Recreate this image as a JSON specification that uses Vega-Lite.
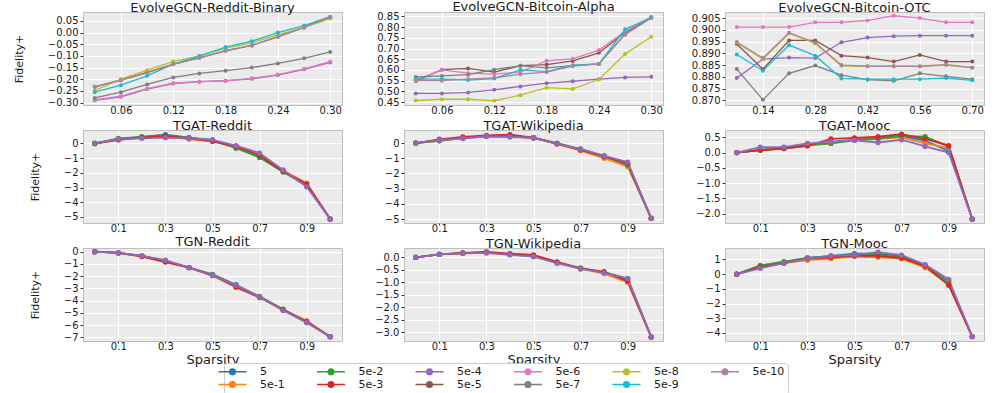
{
"$schema":"https://vega.github.io/schema/vega-lite/v6.json",
"padding":{"left":12,"top":0,"right":5,"bottom":0},
"background":"white",
"columns":3,
"spacing":{"row":25,"column":62},
"bounds":"flush",
"datasets":{
"p1":[
{"s":"5e-4","x":0.03,"y":-0.290},{"s":"5e-4","x":0.06,"y":-0.275},{"s":"5e-4","x":0.09,"y":-0.242},{"s":"5e-4","x":0.12,"y":-0.218},{"s":"5e-4","x":0.15,"y":-0.210},{"s":"5e-4","x":0.18,"y":-0.206},{"s":"5e-4","x":0.21,"y":-0.198},{"s":"5e-4","x":0.24,"y":-0.182},{"s":"5e-4","x":0.27,"y":-0.157},{"s":"5e-4","x":0.30,"y":-0.128},
{"s":"5e-5","x":0.03,"y":-0.232},{"s":"5e-5","x":0.06,"y":-0.203},{"s":"5e-5","x":0.09,"y":-0.170},{"s":"5e-5","x":0.12,"y":-0.135},{"s":"5e-5","x":0.15,"y":-0.108},{"s":"5e-5","x":0.18,"y":-0.078},{"s":"5e-5","x":0.21,"y":-0.055},{"s":"5e-5","x":0.24,"y":-0.018},{"s":"5e-5","x":0.27,"y":0.022},{"s":"5e-5","x":0.30,"y":0.066},
{"s":"5e-6","x":0.03,"y":-0.288},{"s":"5e-6","x":0.06,"y":-0.272},{"s":"5e-6","x":0.09,"y":-0.240},{"s":"5e-6","x":0.12,"y":-0.217},{"s":"5e-6","x":0.15,"y":-0.210},{"s":"5e-6","x":0.18,"y":-0.207},{"s":"5e-6","x":0.21,"y":-0.196},{"s":"5e-6","x":0.24,"y":-0.180},{"s":"5e-6","x":0.27,"y":-0.155},{"s":"5e-6","x":0.30,"y":-0.124},
{"s":"5e-7","x":0.03,"y":-0.280},{"s":"5e-7","x":0.06,"y":-0.255},{"s":"5e-7","x":0.09,"y":-0.222},{"s":"5e-7","x":0.12,"y":-0.192},{"s":"5e-7","x":0.15,"y":-0.175},{"s":"5e-7","x":0.18,"y":-0.163},{"s":"5e-7","x":0.21,"y":-0.150},{"s":"5e-7","x":0.24,"y":-0.132},{"s":"5e-7","x":0.27,"y":-0.110},{"s":"5e-7","x":0.30,"y":-0.083},
{"s":"5e-8","x":0.03,"y":-0.248},{"s":"5e-8","x":0.06,"y":-0.199},{"s":"5e-8","x":0.09,"y":-0.161},{"s":"5e-8","x":0.12,"y":-0.123},{"s":"5e-8","x":0.15,"y":-0.101},{"s":"5e-8","x":0.18,"y":-0.067},{"s":"5e-8","x":0.21,"y":-0.044},{"s":"5e-8","x":0.24,"y":-0.010},{"s":"5e-8","x":0.27,"y":0.022},{"s":"5e-8","x":0.30,"y":0.060},
{"s":"5e-9","x":0.03,"y":-0.255},{"s":"5e-9","x":0.06,"y":-0.225},{"s":"5e-9","x":0.09,"y":-0.185},{"s":"5e-9","x":0.12,"y":-0.135},{"s":"5e-9","x":0.15,"y":-0.100},{"s":"5e-9","x":0.18,"y":-0.062},{"s":"5e-9","x":0.21,"y":-0.037},{"s":"5e-9","x":0.24,"y":0.000},{"s":"5e-9","x":0.27,"y":0.030},{"s":"5e-9","x":0.30,"y":0.068},
{"s":"5e-10","x":0.03,"y":-0.232},{"s":"5e-10","x":0.06,"y":-0.205},{"s":"5e-10","x":0.09,"y":-0.172},{"s":"5e-10","x":0.12,"y":-0.136},{"s":"5e-10","x":0.15,"y":-0.108},{"s":"5e-10","x":0.18,"y":-0.077},{"s":"5e-10","x":0.21,"y":-0.055},{"s":"5e-10","x":0.24,"y":-0.017},{"s":"5e-10","x":0.27,"y":0.022},{"s":"5e-10","x":0.30,"y":0.067}
],
"p2":[
{"s":"5e-4","x":0.03,"y":0.490},{"s":"5e-4","x":0.06,"y":0.490},{"s":"5e-4","x":0.09,"y":0.495},{"s":"5e-4","x":0.12,"y":0.507},{"s":"5e-4","x":0.15,"y":0.523},{"s":"5e-4","x":0.18,"y":0.538},{"s":"5e-4","x":0.21,"y":0.547},{"s":"5e-4","x":0.24,"y":0.557},{"s":"5e-4","x":0.27,"y":0.565},{"s":"5e-4","x":0.30,"y":0.568},
{"s":"5e-5","x":0.03,"y":0.548},{"s":"5e-5","x":0.06,"y":0.601},{"s":"5e-5","x":0.09,"y":0.607},{"s":"5e-5","x":0.12,"y":0.590},{"s":"5e-5","x":0.15,"y":0.620},{"s":"5e-5","x":0.18,"y":0.625},{"s":"5e-5","x":0.21,"y":0.642},{"s":"5e-5","x":0.24,"y":0.680},{"s":"5e-5","x":0.27,"y":0.775},{"s":"5e-5","x":0.30,"y":0.845},
{"s":"5e-6","x":0.03,"y":0.552},{"s":"5e-6","x":0.06,"y":0.600},{"s":"5e-6","x":0.09,"y":0.585},{"s":"5e-6","x":0.12,"y":0.580},{"s":"5e-6","x":0.15,"y":0.590},{"s":"5e-6","x":0.18,"y":0.643},{"s":"5e-6","x":0.21,"y":0.652},{"s":"5e-6","x":0.24,"y":0.693},{"s":"5e-6","x":0.27,"y":0.780},{"s":"5e-6","x":0.30,"y":0.847},
{"s":"5e-7","x":0.03,"y":0.567},{"s":"5e-7","x":0.06,"y":0.572},{"s":"5e-7","x":0.09,"y":0.578},{"s":"5e-7","x":0.12,"y":0.601},{"s":"5e-7","x":0.15,"y":0.620},{"s":"5e-7","x":0.18,"y":0.610},{"s":"5e-7","x":0.21,"y":0.620},{"s":"5e-7","x":0.24,"y":0.628},{"s":"5e-7","x":0.27,"y":0.768},{"s":"5e-7","x":0.30,"y":0.845},
{"s":"5e-8","x":0.03,"y":0.457},{"s":"5e-8","x":0.06,"y":0.463},{"s":"5e-8","x":0.09,"y":0.463},{"s":"5e-8","x":0.12,"y":0.456},{"s":"5e-8","x":0.15,"y":0.482},{"s":"5e-8","x":0.18,"y":0.517},{"s":"5e-8","x":0.21,"y":0.511},{"s":"5e-8","x":0.24,"y":0.555},{"s":"5e-8","x":0.27,"y":0.674},{"s":"5e-8","x":0.30,"y":0.755},
{"s":"5e-9","x":0.03,"y":0.557},{"s":"5e-9","x":0.06,"y":0.557},{"s":"5e-9","x":0.09,"y":0.553},{"s":"5e-9","x":0.12,"y":0.560},{"s":"5e-9","x":0.15,"y":0.600},{"s":"5e-9","x":0.18,"y":0.592},{"s":"5e-9","x":0.21,"y":0.622},{"s":"5e-9","x":0.24,"y":0.628},{"s":"5e-9","x":0.27,"y":0.790},{"s":"5e-9","x":0.30,"y":0.845},
{"s":"5e-10","x":0.03,"y":0.550},{"s":"5e-10","x":0.06,"y":0.550},{"s":"5e-10","x":0.09,"y":0.557},{"s":"5e-10","x":0.12,"y":0.563},{"s":"5e-10","x":0.15,"y":0.580},{"s":"5e-10","x":0.18,"y":0.590},{"s":"5e-10","x":0.21,"y":0.618},{"s":"5e-10","x":0.24,"y":0.628},{"s":"5e-10","x":0.27,"y":0.765},{"s":"5e-10","x":0.30,"y":0.843}
],
"p3":[
{"s":"5e-4","x":0.07,"y":0.8795},{"s":"5e-4","x":0.14,"y":0.8875},{"s":"5e-4","x":0.21,"y":0.8882},{"s":"5e-4","x":0.28,"y":0.8880},{"s":"5e-4","x":0.35,"y":0.8947},{"s":"5e-4","x":0.42,"y":0.8967},{"s":"5e-4","x":0.49,"y":0.8973},{"s":"5e-4","x":0.56,"y":0.8975},{"s":"5e-4","x":0.63,"y":0.8975},{"s":"5e-4","x":0.70,"y":0.8975},
{"s":"5e-5","x":0.07,"y":0.8940},{"s":"5e-5","x":0.14,"y":0.8832},{"s":"5e-5","x":0.21,"y":0.8955},{"s":"5e-5","x":0.28,"y":0.8955},{"s":"5e-5","x":0.35,"y":0.8890},{"s":"5e-5","x":0.42,"y":0.8882},{"s":"5e-5","x":0.49,"y":0.8865},{"s":"5e-5","x":0.56,"y":0.8893},{"s":"5e-5","x":0.63,"y":0.8865},{"s":"5e-5","x":0.70,"y":0.8865},
{"s":"5e-6","x":0.07,"y":0.9012},{"s":"5e-6","x":0.14,"y":0.9012},{"s":"5e-6","x":0.21,"y":0.9012},{"s":"5e-6","x":0.28,"y":0.9032},{"s":"5e-6","x":0.35,"y":0.9032},{"s":"5e-6","x":0.42,"y":0.9040},{"s":"5e-6","x":0.49,"y":0.9060},{"s":"5e-6","x":0.56,"y":0.9050},{"s":"5e-6","x":0.63,"y":0.9032},{"s":"5e-6","x":0.70,"y":0.9032},
{"s":"5e-7","x":0.07,"y":0.8833},{"s":"5e-7","x":0.14,"y":0.8702},{"s":"5e-7","x":0.21,"y":0.8815},{"s":"5e-7","x":0.28,"y":0.8848},{"s":"5e-7","x":0.35,"y":0.8807},{"s":"5e-7","x":0.42,"y":0.8788},{"s":"5e-7","x":0.49,"y":0.8783},{"s":"5e-7","x":0.56,"y":0.8815},{"s":"5e-7","x":0.63,"y":0.8802},{"s":"5e-7","x":0.70,"y":0.8790},
{"s":"5e-8","x":0.07,"y":0.8945},{"s":"5e-8","x":0.14,"y":0.8875},{"s":"5e-8","x":0.21,"y":0.8985},{"s":"5e-8","x":0.28,"y":0.8942},{"s":"5e-8","x":0.35,"y":0.8847},{"s":"5e-8","x":0.42,"y":0.8845},{"s":"5e-8","x":0.49,"y":0.8845},{"s":"5e-8","x":0.56,"y":0.8845},{"s":"5e-8","x":0.63,"y":0.8850},{"s":"5e-8","x":0.70,"y":0.8838},
{"s":"5e-9","x":0.07,"y":0.8895},{"s":"5e-9","x":0.14,"y":0.8826},{"s":"5e-9","x":0.21,"y":0.8935},{"s":"5e-9","x":0.28,"y":0.8890},{"s":"5e-9","x":0.35,"y":0.8793},{"s":"5e-9","x":0.42,"y":0.8790},{"s":"5e-9","x":0.49,"y":0.8790},{"s":"5e-9","x":0.56,"y":0.8790},{"s":"5e-9","x":0.63,"y":0.8795},{"s":"5e-9","x":0.70,"y":0.8785},
{"s":"5e-10","x":0.07,"y":0.8948},{"s":"5e-10","x":0.14,"y":0.8880},{"s":"5e-10","x":0.21,"y":0.8988},{"s":"5e-10","x":0.28,"y":0.8945},{"s":"5e-10","x":0.35,"y":0.8850},{"s":"5e-10","x":0.42,"y":0.8845},{"s":"5e-10","x":0.49,"y":0.8845},{"s":"5e-10","x":0.56,"y":0.8845},{"s":"5e-10","x":0.63,"y":0.8852},{"s":"5e-10","x":0.70,"y":0.8840}
],
"p4":[
{"s":"5","x":0,"y":0},{"s":"5","x":0.1,"y":0.30},{"s":"5","x":0.2,"y":0.45},{"s":"5","x":0.3,"y":0.60},{"s":"5","x":0.4,"y":0.40},{"s":"5","x":0.5,"y":0.25},{"s":"5","x":0.6,"y":-0.30},{"s":"5","x":0.7,"y":-0.90},{"s":"5","x":0.8,"y":-1.90},{"s":"5","x":0.9,"y":-2.90},{"s":"5","x":1.0,"y":-5.15},
{"s":"5e-1","x":0,"y":0},{"s":"5e-1","x":0.1,"y":0.25},{"s":"5e-1","x":0.2,"y":0.45},{"s":"5e-1","x":0.3,"y":0.45},{"s":"5e-1","x":0.4,"y":0.30},{"s":"5e-1","x":0.5,"y":0.15},{"s":"5e-1","x":0.6,"y":-0.20},{"s":"5e-1","x":0.7,"y":-0.80},{"s":"5e-1","x":0.8,"y":-1.85},{"s":"5e-1","x":0.9,"y":-2.70},{"s":"5e-1","x":1.0,"y":-5.15},
{"s":"5e-2","x":0,"y":0},{"s":"5e-2","x":0.1,"y":0.35},{"s":"5e-2","x":0.2,"y":0.45},{"s":"5e-2","x":0.3,"y":0.55},{"s":"5e-2","x":0.4,"y":0.40},{"s":"5e-2","x":0.5,"y":0.20},{"s":"5e-2","x":0.6,"y":-0.30},{"s":"5e-2","x":0.7,"y":-0.95},{"s":"5e-2","x":0.8,"y":-1.95},{"s":"5e-2","x":0.9,"y":-2.85},{"s":"5e-2","x":1.0,"y":-5.15},
{"s":"5e-3","x":0,"y":0},{"s":"5e-3","x":0.1,"y":0.25},{"s":"5e-3","x":0.2,"y":0.40},{"s":"5e-3","x":0.3,"y":0.50},{"s":"5e-3","x":0.4,"y":0.35},{"s":"5e-3","x":0.5,"y":0.15},{"s":"5e-3","x":0.6,"y":-0.20},{"s":"5e-3","x":0.7,"y":-0.80},{"s":"5e-3","x":0.8,"y":-1.90},{"s":"5e-3","x":0.9,"y":-2.75},{"s":"5e-3","x":1.0,"y":-5.15},
{"s":"5e-4","x":0,"y":0},{"s":"5e-4","x":0.1,"y":0.30},{"s":"5e-4","x":0.2,"y":0.35},{"s":"5e-4","x":0.3,"y":0.40},{"s":"5e-4","x":0.4,"y":0.35},{"s":"5e-4","x":0.5,"y":0.25},{"s":"5e-4","x":0.6,"y":-0.15},{"s":"5e-4","x":0.7,"y":-0.65},{"s":"5e-4","x":0.8,"y":-1.80},{"s":"5e-4","x":0.9,"y":-2.95},{"s":"5e-4","x":1.0,"y":-5.15}
],
"p5":[
{"s":"5","x":0,"y":0},{"s":"5","x":0.1,"y":0.20},{"s":"5","x":0.2,"y":0.35},{"s":"5","x":0.3,"y":0.45},{"s":"5","x":0.4,"y":0.45},{"s":"5","x":0.5,"y":0.35},{"s":"5","x":0.6,"y":-0.05},{"s":"5","x":0.7,"y":-0.40},{"s":"5","x":0.8,"y":-0.85},{"s":"5","x":0.9,"y":-1.35},{"s":"5","x":1.0,"y":-4.95},
{"s":"5e-1","x":0,"y":0},{"s":"5e-1","x":0.1,"y":0.15},{"s":"5e-1","x":0.2,"y":0.35},{"s":"5e-1","x":0.3,"y":0.45},{"s":"5e-1","x":0.4,"y":0.45},{"s":"5e-1","x":0.5,"y":0.35},{"s":"5e-1","x":0.6,"y":-0.05},{"s":"5e-1","x":0.7,"y":-0.50},{"s":"5e-1","x":0.8,"y":-1.00},{"s":"5e-1","x":0.9,"y":-1.55},{"s":"5e-1","x":1.0,"y":-4.95},
{"s":"5e-2","x":0,"y":0},{"s":"5e-2","x":0.1,"y":0.15},{"s":"5e-2","x":0.2,"y":0.35},{"s":"5e-2","x":0.3,"y":0.45},{"s":"5e-2","x":0.4,"y":0.45},{"s":"5e-2","x":0.5,"y":0.35},{"s":"5e-2","x":0.6,"y":0.00},{"s":"5e-2","x":0.7,"y":-0.40},{"s":"5e-2","x":0.8,"y":-0.85},{"s":"5e-2","x":0.9,"y":-1.45},{"s":"5e-2","x":1.0,"y":-4.95},
{"s":"5e-3","x":0,"y":0},{"s":"5e-3","x":0.1,"y":0.25},{"s":"5e-3","x":0.2,"y":0.40},{"s":"5e-3","x":0.3,"y":0.50},{"s":"5e-3","x":0.4,"y":0.55},{"s":"5e-3","x":0.5,"y":0.35},{"s":"5e-3","x":0.6,"y":-0.05},{"s":"5e-3","x":0.7,"y":-0.45},{"s":"5e-3","x":0.8,"y":-0.90},{"s":"5e-3","x":0.9,"y":-1.35},{"s":"5e-3","x":1.0,"y":-4.95},
{"s":"5e-4","x":0,"y":0},{"s":"5e-4","x":0.1,"y":0.20},{"s":"5e-4","x":0.2,"y":0.30},{"s":"5e-4","x":0.3,"y":0.45},{"s":"5e-4","x":0.4,"y":0.40},{"s":"5e-4","x":0.5,"y":0.35},{"s":"5e-4","x":0.6,"y":-0.05},{"s":"5e-4","x":0.7,"y":-0.40},{"s":"5e-4","x":0.8,"y":-0.85},{"s":"5e-4","x":0.9,"y":-1.25},{"s":"5e-4","x":1.0,"y":-4.95}
],
"p6":[
{"s":"5","x":0,"y":0},{"s":"5","x":0.1,"y":0.08},{"s":"5","x":0.2,"y":0.15},{"s":"5","x":0.3,"y":0.25},{"s":"5","x":0.4,"y":0.35},{"s":"5","x":0.5,"y":0.42},{"s":"5","x":0.6,"y":0.48},{"s":"5","x":0.7,"y":0.55},{"s":"5","x":0.8,"y":0.38},{"s":"5","x":0.9,"y":0.05},{"s":"5","x":1.0,"y":-2.18},
{"s":"5e-1","x":0,"y":0},{"s":"5e-1","x":0.1,"y":0.08},{"s":"5e-1","x":0.2,"y":0.13},{"s":"5e-1","x":0.3,"y":0.22},{"s":"5e-1","x":0.4,"y":0.30},{"s":"5e-1","x":0.5,"y":0.42},{"s":"5e-1","x":0.6,"y":0.45},{"s":"5e-1","x":0.7,"y":0.50},{"s":"5e-1","x":0.8,"y":0.30},{"s":"5e-1","x":0.9,"y":0.15},{"s":"5e-1","x":1.0,"y":-2.18},
{"s":"5e-2","x":0,"y":0},{"s":"5e-2","x":0.1,"y":0.08},{"s":"5e-2","x":0.2,"y":0.14},{"s":"5e-2","x":0.3,"y":0.25},{"s":"5e-2","x":0.4,"y":0.30},{"s":"5e-2","x":0.5,"y":0.40},{"s":"5e-2","x":0.6,"y":0.45},{"s":"5e-2","x":0.7,"y":0.55},{"s":"5e-2","x":0.8,"y":0.52},{"s":"5e-2","x":0.9,"y":0.20},{"s":"5e-2","x":1.0,"y":-2.18},
{"s":"5e-3","x":0,"y":0},{"s":"5e-3","x":0.1,"y":0.08},{"s":"5e-3","x":0.2,"y":0.13},{"s":"5e-3","x":0.3,"y":0.22},{"s":"5e-3","x":0.4,"y":0.45},{"s":"5e-3","x":0.5,"y":0.48},{"s":"5e-3","x":0.6,"y":0.52},{"s":"5e-3","x":0.7,"y":0.60},{"s":"5e-3","x":0.8,"y":0.45},{"s":"5e-3","x":0.9,"y":0.23},{"s":"5e-3","x":1.0,"y":-2.18},
{"s":"5e-4","x":0,"y":0},{"s":"5e-4","x":0.1,"y":0.18},{"s":"5e-4","x":0.2,"y":0.18},{"s":"5e-4","x":0.3,"y":0.30},{"s":"5e-4","x":0.4,"y":0.35},{"s":"5e-4","x":0.5,"y":0.40},{"s":"5e-4","x":0.6,"y":0.33},{"s":"5e-4","x":0.7,"y":0.42},{"s":"5e-4","x":0.8,"y":0.20},{"s":"5e-4","x":0.9,"y":0.00},{"s":"5e-4","x":1.0,"y":-2.18}
],
"p7":[
{"s":"5","x":0,"y":0},{"s":"5","x":0.1,"y":-0.10},{"s":"5","x":0.2,"y":-0.35},{"s":"5","x":0.3,"y":-0.75},{"s":"5","x":0.4,"y":-1.30},{"s":"5","x":0.5,"y":-1.85},{"s":"5","x":0.6,"y":-2.70},{"s":"5","x":0.7,"y":-3.70},{"s":"5","x":0.8,"y":-4.75},{"s":"5","x":0.9,"y":-5.75},{"s":"5","x":1.0,"y":-6.95},
{"s":"5e-1","x":0,"y":0},{"s":"5e-1","x":0.1,"y":-0.10},{"s":"5e-1","x":0.2,"y":-0.35},{"s":"5e-1","x":0.3,"y":-0.80},{"s":"5e-1","x":0.4,"y":-1.30},{"s":"5e-1","x":0.5,"y":-1.90},{"s":"5e-1","x":0.6,"y":-2.80},{"s":"5e-1","x":0.7,"y":-3.70},{"s":"5e-1","x":0.8,"y":-4.75},{"s":"5e-1","x":0.9,"y":-5.65},{"s":"5e-1","x":1.0,"y":-6.95},
{"s":"5e-2","x":0,"y":0},{"s":"5e-2","x":0.1,"y":-0.10},{"s":"5e-2","x":0.2,"y":-0.35},{"s":"5e-2","x":0.3,"y":-0.75},{"s":"5e-2","x":0.4,"y":-1.30},{"s":"5e-2","x":0.5,"y":-1.90},{"s":"5e-2","x":0.6,"y":-2.75},{"s":"5e-2","x":0.7,"y":-3.65},{"s":"5e-2","x":0.8,"y":-4.70},{"s":"5e-2","x":0.9,"y":-5.75},{"s":"5e-2","x":1.0,"y":-6.95},
{"s":"5e-3","x":0,"y":0},{"s":"5e-3","x":0.1,"y":-0.10},{"s":"5e-3","x":0.2,"y":-0.40},{"s":"5e-3","x":0.3,"y":-0.85},{"s":"5e-3","x":0.4,"y":-1.30},{"s":"5e-3","x":0.5,"y":-1.95},{"s":"5e-3","x":0.6,"y":-2.90},{"s":"5e-3","x":0.7,"y":-3.75},{"s":"5e-3","x":0.8,"y":-4.75},{"s":"5e-3","x":0.9,"y":-5.70},{"s":"5e-3","x":1.0,"y":-6.95},
{"s":"5e-4","x":0,"y":0},{"s":"5e-4","x":0.1,"y":-0.10},{"s":"5e-4","x":0.2,"y":-0.35},{"s":"5e-4","x":0.3,"y":-0.70},{"s":"5e-4","x":0.4,"y":-1.30},{"s":"5e-4","x":0.5,"y":-1.95},{"s":"5e-4","x":0.6,"y":-2.75},{"s":"5e-4","x":0.7,"y":-3.70},{"s":"5e-4","x":0.8,"y":-4.80},{"s":"5e-4","x":0.9,"y":-5.80},{"s":"5e-4","x":1.0,"y":-6.95}
],
"p8":[
{"s":"5","x":0,"y":0},{"s":"5","x":0.1,"y":0.12},{"s":"5","x":0.2,"y":0.17},{"s":"5","x":0.3,"y":0.20},{"s":"5","x":0.4,"y":0.12},{"s":"5","x":0.5,"y":0.05},{"s":"5","x":0.6,"y":-0.20},{"s":"5","x":0.7,"y":-0.45},{"s":"5","x":0.8,"y":-0.60},{"s":"5","x":0.9,"y":-0.88},{"s":"5","x":1.0,"y":-3.20},
{"s":"5e-1","x":0,"y":0},{"s":"5e-1","x":0.1,"y":0.12},{"s":"5e-1","x":0.2,"y":0.16},{"s":"5e-1","x":0.3,"y":0.18},{"s":"5e-1","x":0.4,"y":0.12},{"s":"5e-1","x":0.5,"y":0.05},{"s":"5e-1","x":0.6,"y":-0.22},{"s":"5e-1","x":0.7,"y":-0.45},{"s":"5e-1","x":0.8,"y":-0.65},{"s":"5e-1","x":0.9,"y":-1.00},{"s":"5e-1","x":1.0,"y":-3.20},
{"s":"5e-2","x":0,"y":0},{"s":"5e-2","x":0.1,"y":0.12},{"s":"5e-2","x":0.2,"y":0.17},{"s":"5e-2","x":0.3,"y":0.20},{"s":"5e-2","x":0.4,"y":0.12},{"s":"5e-2","x":0.5,"y":0.05},{"s":"5e-2","x":0.6,"y":-0.20},{"s":"5e-2","x":0.7,"y":-0.42},{"s":"5e-2","x":0.8,"y":-0.60},{"s":"5e-2","x":0.9,"y":-0.85},{"s":"5e-2","x":1.0,"y":-3.20},
{"s":"5e-3","x":0,"y":0},{"s":"5e-3","x":0.1,"y":0.12},{"s":"5e-3","x":0.2,"y":0.18},{"s":"5e-3","x":0.3,"y":0.22},{"s":"5e-3","x":0.4,"y":0.15},{"s":"5e-3","x":0.5,"y":0.10},{"s":"5e-3","x":0.6,"y":-0.18},{"s":"5e-3","x":0.7,"y":-0.45},{"s":"5e-3","x":0.8,"y":-0.57},{"s":"5e-3","x":0.9,"y":-0.95},{"s":"5e-3","x":1.0,"y":-3.20},
{"s":"5e-4","x":0,"y":0},{"s":"5e-4","x":0.1,"y":0.12},{"s":"5e-4","x":0.2,"y":0.16},{"s":"5e-4","x":0.3,"y":0.18},{"s":"5e-4","x":0.4,"y":0.10},{"s":"5e-4","x":0.5,"y":0.03},{"s":"5e-4","x":0.6,"y":-0.23},{"s":"5e-4","x":0.7,"y":-0.45},{"s":"5e-4","x":0.8,"y":-0.62},{"s":"5e-4","x":0.9,"y":-0.85},{"s":"5e-4","x":1.0,"y":-3.20}
],
"p9":[
{"s":"5","x":0,"y":0},{"s":"5","x":0.1,"y":0.50},{"s":"5","x":0.2,"y":0.80},{"s":"5","x":0.3,"y":1.10},{"s":"5","x":0.4,"y":1.25},{"s":"5","x":0.5,"y":1.40},{"s":"5","x":0.6,"y":1.40},{"s":"5","x":0.7,"y":1.20},{"s":"5","x":0.8,"y":0.60},{"s":"5","x":0.9,"y":-0.50},{"s":"5","x":1.0,"y":-4.25},
{"s":"5e-1","x":0,"y":0},{"s":"5e-1","x":0.1,"y":0.45},{"s":"5e-1","x":0.2,"y":0.75},{"s":"5e-1","x":0.3,"y":0.95},{"s":"5e-1","x":0.4,"y":1.05},{"s":"5e-1","x":0.5,"y":1.20},{"s":"5e-1","x":0.6,"y":1.15},{"s":"5e-1","x":0.7,"y":1.05},{"s":"5e-1","x":0.8,"y":0.45},{"s":"5e-1","x":0.9,"y":-0.70},{"s":"5e-1","x":1.0,"y":-4.25},
{"s":"5e-2","x":0,"y":0},{"s":"5e-2","x":0.1,"y":0.60},{"s":"5e-2","x":0.2,"y":0.85},{"s":"5e-2","x":0.3,"y":1.10},{"s":"5e-2","x":0.4,"y":1.20},{"s":"5e-2","x":0.5,"y":1.30},{"s":"5e-2","x":0.6,"y":1.35},{"s":"5e-2","x":0.7,"y":1.15},{"s":"5e-2","x":0.8,"y":0.60},{"s":"5e-2","x":0.9,"y":-0.55},{"s":"5e-2","x":1.0,"y":-4.25},
{"s":"5e-3","x":0,"y":0},{"s":"5e-3","x":0.1,"y":0.50},{"s":"5e-3","x":0.2,"y":0.75},{"s":"5e-3","x":0.3,"y":1.05},{"s":"5e-3","x":0.4,"y":1.15},{"s":"5e-3","x":0.5,"y":1.25},{"s":"5e-3","x":0.6,"y":1.25},{"s":"5e-3","x":0.7,"y":1.10},{"s":"5e-3","x":0.8,"y":0.55},{"s":"5e-3","x":0.9,"y":-0.75},{"s":"5e-3","x":1.0,"y":-4.25},
{"s":"5e-4","x":0,"y":0},{"s":"5e-4","x":0.1,"y":0.40},{"s":"5e-4","x":0.2,"y":0.75},{"s":"5e-4","x":0.3,"y":1.05},{"s":"5e-4","x":0.4,"y":1.25},{"s":"5e-4","x":0.5,"y":1.30},{"s":"5e-4","x":0.6,"y":1.50},{"s":"5e-4","x":0.7,"y":1.30},{"s":"5e-4","x":0.8,"y":0.65},{"s":"5e-4","x":0.9,"y":-0.35},{"s":"5e-4","x":1.0,"y":-4.25}
]
},
"concat":[
{"title":"EvolveGCN-Reddit-Binary","width":259,"height":93,"data":{"name":"p1"},
"encoding":{"x":{"field":"x","type":"quantitative","scale":{"domain":[0.0165,0.3135],"nice":false,"zero":false},"axis":{"values":[0.06,0.12,0.18,0.24,0.30],"format":".2f","title":null}},
"y":{"field":"y","type":"quantitative","scale":{"domain":[-0.31,0.088],"nice":false,"zero":false},"axis":{"values":[-0.30,-0.25,-0.20,-0.15,-0.10,-0.05,0.00,0.05],"format":".2f","title":"Fidelity+"}}},
"layer":[{"mark":{"type":"line","strokeWidth":1.3},"encoding":{"color":{"field":"s","type":"nominal","title":null,"scale":{"domain":["5","5e-2","5e-4","5e-6","5e-8","5e-10","5e-1","5e-3","5e-5","5e-7","5e-9"]},"legend":{"orient":"none","legendX":141,"legendY":351,"symbolType":"M-4,0H4M-0.8,0A0.8,0.8,0,1,1,0.8,0A0.8,0.8,0,1,1,-0.8,0Z","encode":{"symbols":{"update":{"fill":{"scale":"color","field":"value"},"stroke":{"scale":"color","field":"value"},"strokeWidth":{"value":1.5}}}}}}}},
{"mark":{"type":"point","filled":true,"size":16,"opacity":1},"encoding":{"color":{"field":"s","type":"nominal","scale":{"domain":["5","5e-2","5e-4","5e-6","5e-8","5e-10","5e-1","5e-3","5e-5","5e-7","5e-9"]},"legend":null}}}]},
{"title":"EvolveGCN-Bitcoin-Alpha","width":259,"height":93,"data":{"name":"p2"},
"encoding":{"x":{"field":"x","type":"quantitative","scale":{"domain":[0.0165,0.3135],"nice":false,"zero":false},"axis":{"values":[0.06,0.12,0.18,0.24,0.30],"format":".2f","title":null}},
"y":{"field":"y","type":"quantitative","scale":{"domain":[0.436,0.871],"nice":false,"zero":false},"axis":{"values":[0.45,0.50,0.55,0.60,0.65,0.70,0.75,0.80,0.85],"format":".2f","title":null}}},
"layer":[{"mark":{"type":"line","strokeWidth":1.3},"encoding":{"color":{"field":"s","type":"nominal","title":null,"scale":{"domain":["5","5e-2","5e-4","5e-6","5e-8","5e-10","5e-1","5e-3","5e-5","5e-7","5e-9"]},"legend":{"orient":"none","legendX":141,"legendY":351,"symbolType":"M-4,0H4M-0.8,0A0.8,0.8,0,1,1,0.8,0A0.8,0.8,0,1,1,-0.8,0Z","encode":{"symbols":{"update":{"fill":{"scale":"color","field":"value"},"stroke":{"scale":"color","field":"value"},"strokeWidth":{"value":1.5}}}}}}}},
{"mark":{"type":"point","filled":true,"size":16,"opacity":1},"encoding":{"color":{"field":"s","type":"nominal","scale":{"domain":["5","5e-2","5e-4","5e-6","5e-8","5e-10","5e-1","5e-3","5e-5","5e-7","5e-9"]},"legend":null}}}]},
{"title":"EvolveGCN-Bitcoin-OTC","width":259,"height":93,"data":{"name":"p3"},
"encoding":{"x":{"field":"x","type":"quantitative","scale":{"domain":[0.0385,0.7315],"nice":false,"zero":false},"axis":{"values":[0.14,0.28,0.42,0.56,0.70],"format":".2f","title":null}},
"y":{"field":"y","type":"quantitative","scale":{"domain":[0.868,0.9076],"nice":false,"zero":false},"axis":{"values":[0.870,0.875,0.880,0.885,0.890,0.895,0.900,0.905],"format":".3f","title":null}}},
"layer":[{"mark":{"type":"line","strokeWidth":1.3},"encoding":{"color":{"field":"s","type":"nominal","title":null,"scale":{"domain":["5","5e-2","5e-4","5e-6","5e-8","5e-10","5e-1","5e-3","5e-5","5e-7","5e-9"]},"legend":{"orient":"none","legendX":141,"legendY":351,"symbolType":"M-4,0H4M-0.8,0A0.8,0.8,0,1,1,0.8,0A0.8,0.8,0,1,1,-0.8,0Z","encode":{"symbols":{"update":{"fill":{"scale":"color","field":"value"},"stroke":{"scale":"color","field":"value"},"strokeWidth":{"value":1.5}}}}}}}},
{"mark":{"type":"point","filled":true,"size":16,"opacity":1},"encoding":{"color":{"field":"s","type":"nominal","scale":{"domain":["5","5e-2","5e-4","5e-6","5e-8","5e-10","5e-1","5e-3","5e-5","5e-7","5e-9"]},"legend":null}}}]},
{"title":"TGAT-Reddit","width":259,"height":93,"data":{"name":"p4"},
"encoding":{"x":{"field":"x","type":"quantitative","scale":{"domain":[-0.05,1.05],"nice":false,"zero":false},"axis":{"values":[0.1,0.3,0.5,0.7,0.9],"format":".1f","title":null}},
"y":{"field":"y","type":"quantitative","scale":{"domain":[-5.42,0.92],"nice":false,"zero":false},"axis":{"values":[-5,-4,-3,-2,-1,0],"format":"d","title":"Fidelity+"}}},
"layer":[{"mark":{"type":"line","strokeWidth":1.8},"encoding":{"color":{"field":"s","type":"nominal","title":null,"scale":{"domain":["5","5e-2","5e-4","5e-6","5e-8","5e-10","5e-1","5e-3","5e-5","5e-7","5e-9"]},"legend":{"orient":"none","legendX":141,"legendY":351,"symbolType":"M-4,0H4M-0.8,0A0.8,0.8,0,1,1,0.8,0A0.8,0.8,0,1,1,-0.8,0Z","encode":{"symbols":{"update":{"fill":{"scale":"color","field":"value"},"stroke":{"scale":"color","field":"value"},"strokeWidth":{"value":1.5}}}}}}}},
{"mark":{"type":"point","filled":true,"size":28,"opacity":1},"encoding":{"color":{"field":"s","type":"nominal","scale":{"domain":["5","5e-2","5e-4","5e-6","5e-8","5e-10","5e-1","5e-3","5e-5","5e-7","5e-9"]},"legend":null}}}]},
{"title":"TGAT-Wikipedia","width":259,"height":93,"data":{"name":"p5"},
"encoding":{"x":{"field":"x","type":"quantitative","scale":{"domain":[-0.05,1.05],"nice":false,"zero":false},"axis":{"values":[0.1,0.3,0.5,0.7,0.9],"format":".1f","title":null}},
"y":{"field":"y","type":"quantitative","scale":{"domain":[-5.26,0.86],"nice":false,"zero":false},"axis":{"values":[-5,-4,-3,-2,-1,0],"format":"d","title":null}}},
"layer":[{"mark":{"type":"line","strokeWidth":1.8},"encoding":{"color":{"field":"s","type":"nominal","title":null,"scale":{"domain":["5","5e-2","5e-4","5e-6","5e-8","5e-10","5e-1","5e-3","5e-5","5e-7","5e-9"]},"legend":{"orient":"none","legendX":141,"legendY":351,"symbolType":"M-4,0H4M-0.8,0A0.8,0.8,0,1,1,0.8,0A0.8,0.8,0,1,1,-0.8,0Z","encode":{"symbols":{"update":{"fill":{"scale":"color","field":"value"},"stroke":{"scale":"color","field":"value"},"strokeWidth":{"value":1.5}}}}}}}},
{"mark":{"type":"point","filled":true,"size":28,"opacity":1},"encoding":{"color":{"field":"s","type":"nominal","scale":{"domain":["5","5e-2","5e-4","5e-6","5e-8","5e-10","5e-1","5e-3","5e-5","5e-7","5e-9"]},"legend":null}}}]},
{"title":"TGAT-Mooc","width":259,"height":93,"data":{"name":"p6"},
"encoding":{"x":{"field":"x","type":"quantitative","scale":{"domain":[-0.05,1.05],"nice":false,"zero":false},"axis":{"values":[0.1,0.3,0.5,0.7,0.9],"format":".1f","title":null}},
"y":{"field":"y","type":"quantitative","scale":{"domain":[-2.31,0.74],"nice":false,"zero":false},"axis":{"values":[-2.0,-1.5,-1.0,-0.5,0.0,0.5],"format":".1f","title":null}}},
"layer":[{"mark":{"type":"line","strokeWidth":1.8},"encoding":{"color":{"field":"s","type":"nominal","title":null,"scale":{"domain":["5","5e-2","5e-4","5e-6","5e-8","5e-10","5e-1","5e-3","5e-5","5e-7","5e-9"]},"legend":{"orient":"none","legendX":141,"legendY":351,"symbolType":"M-4,0H4M-0.8,0A0.8,0.8,0,1,1,0.8,0A0.8,0.8,0,1,1,-0.8,0Z","encode":{"symbols":{"update":{"fill":{"scale":"color","field":"value"},"stroke":{"scale":"color","field":"value"},"strokeWidth":{"value":1.5}}}}}}}},
{"mark":{"type":"point","filled":true,"size":28,"opacity":1},"encoding":{"color":{"field":"s","type":"nominal","scale":{"domain":["5","5e-2","5e-4","5e-6","5e-8","5e-10","5e-1","5e-3","5e-5","5e-7","5e-9"]},"legend":null}}}]},
{"title":"TGN-Reddit","width":259,"height":93,"data":{"name":"p7"},
"encoding":{"x":{"field":"x","type":"quantitative","scale":{"domain":[-0.05,1.05],"nice":false,"zero":false},"axis":{"values":[0.1,0.3,0.5,0.7,0.9],"format":".1f","title":"Sparsity","titleBaseline":"alphabetic","titleY":22}},
"y":{"field":"y","type":"quantitative","scale":{"domain":[-7.3,0.3],"nice":false,"zero":false},"axis":{"values":[-7,-6,-5,-4,-3,-2,-1,0],"format":"d","title":"Fidelity+"}}},
"layer":[{"mark":{"type":"line","strokeWidth":1.8},"encoding":{"color":{"field":"s","type":"nominal","title":null,"scale":{"domain":["5","5e-2","5e-4","5e-6","5e-8","5e-10","5e-1","5e-3","5e-5","5e-7","5e-9"]},"legend":{"orient":"none","legendX":141,"legendY":351,"symbolType":"M-4,0H4M-0.8,0A0.8,0.8,0,1,1,0.8,0A0.8,0.8,0,1,1,-0.8,0Z","encode":{"symbols":{"update":{"fill":{"scale":"color","field":"value"},"stroke":{"scale":"color","field":"value"},"strokeWidth":{"value":1.5}}}}}}}},
{"mark":{"type":"point","filled":true,"size":28,"opacity":1},"encoding":{"color":{"field":"s","type":"nominal","scale":{"domain":["5","5e-2","5e-4","5e-6","5e-8","5e-10","5e-1","5e-3","5e-5","5e-7","5e-9"]},"legend":null}}}]},
{"title":"TGN-Wikipedia","width":259,"height":93,"data":{"name":"p8"},
"encoding":{"x":{"field":"x","type":"quantitative","scale":{"domain":[-0.05,1.05],"nice":false,"zero":false},"axis":{"values":[0.1,0.3,0.5,0.7,0.9],"format":".1f","title":"Sparsity","titleBaseline":"alphabetic","titleY":22}},
"y":{"field":"y","type":"quantitative","scale":{"domain":[-3.36,0.38],"nice":false,"zero":false},"axis":{"values":[-3.0,-2.5,-2.0,-1.5,-1.0,-0.5,0.0],"format":".1f","title":null}}},
"layer":[{"mark":{"type":"line","strokeWidth":1.8},"encoding":{"color":{"field":"s","type":"nominal","title":null,"scale":{"domain":["5","5e-2","5e-4","5e-6","5e-8","5e-10","5e-1","5e-3","5e-5","5e-7","5e-9"]},"legend":{"orient":"none","legendX":141,"legendY":351,"symbolType":"M-4,0H4M-0.8,0A0.8,0.8,0,1,1,0.8,0A0.8,0.8,0,1,1,-0.8,0Z","encode":{"symbols":{"update":{"fill":{"scale":"color","field":"value"},"stroke":{"scale":"color","field":"value"},"strokeWidth":{"value":1.5}}}}}}}},
{"mark":{"type":"point","filled":true,"size":28,"opacity":1},"encoding":{"color":{"field":"s","type":"nominal","scale":{"domain":["5","5e-2","5e-4","5e-6","5e-8","5e-10","5e-1","5e-3","5e-5","5e-7","5e-9"]},"legend":null}}}]},
{"title":"TGN-Mooc","width":259,"height":93,"data":{"name":"p9"},
"encoding":{"x":{"field":"x","type":"quantitative","scale":{"domain":[-0.05,1.05],"nice":false,"zero":false},"axis":{"values":[0.1,0.3,0.5,0.7,0.9],"format":".1f","title":"Sparsity","titleBaseline":"alphabetic","titleY":22}},
"y":{"field":"y","type":"quantitative","scale":{"domain":[-4.55,1.78],"nice":false,"zero":false},"axis":{"values":[-4,-3,-2,-1,0,1],"format":"d","title":null}}},
"layer":[{"mark":{"type":"line","strokeWidth":1.8},"encoding":{"color":{"field":"s","type":"nominal","title":null,"scale":{"domain":["5","5e-2","5e-4","5e-6","5e-8","5e-10","5e-1","5e-3","5e-5","5e-7","5e-9"]},"legend":{"orient":"none","legendX":141,"legendY":351,"symbolType":"M-4,0H4M-0.8,0A0.8,0.8,0,1,1,0.8,0A0.8,0.8,0,1,1,-0.8,0Z","encode":{"symbols":{"update":{"fill":{"scale":"color","field":"value"},"stroke":{"scale":"color","field":"value"},"strokeWidth":{"value":1.5}}}}}}}},
{"mark":{"type":"point","filled":true,"size":28,"opacity":1},"encoding":{"color":{"field":"s","type":"nominal","scale":{"domain":["5","5e-2","5e-4","5e-6","5e-8","5e-10","5e-1","5e-3","5e-5","5e-7","5e-9"]},"legend":null}}}]}
],
"config":{
"view":{"fill":"#ebebeb","stroke":"#bdbdbd","strokeWidth":1},
"range":{"category":["#1f77b4","#2ca02c","#9467bd","#e377c2","#bcbd22","#a9849f","#ff7f0e","#d62728","#8c564b","#7f7f7f","#17becf"]},
"title":{"font":"DejaVu Sans","fontSize":13,"fontWeight":"normal","color":"#1a1a1a","offset":-2.5,"baseline":"alphabetic","anchor":"middle"},
"axis":{"grid":true,"gridColor":"#ffffff","gridWidth":1,"domain":false,"tickColor":"#333333","tickSize":3,"labelColor":"#1a1a1a","labelFont":"DejaVu Sans","labelFontSize":10,"labelOverlap":false,"labelFlush":false,"titleFont":"DejaVu Sans","titleFontWeight":"normal","titleColor":"#1a1a1a"},
"axisX":{"labelPadding":-2,"tickSize":2,"titleFontSize":13,"titlePadding":0},
"axisY":{"labelPadding":2,"titleFontSize":11,"titlePadding":23},
"legend":{"direction":"horizontal","columns":6,"symbolType":"M-4,0H4M-0.8,0A0.8,0.8,0,1,1,0.8,0A0.8,0.8,0,1,1,-0.8,0Z","symbolSize":49,"labelFont":"DejaVu Sans","labelFontSize":11,"labelColor":"#1a1a1a","labelOffset":22,"columnPadding":21.5,"rowPadding":0,"padding":3,"strokeColor":"#cccccc","fillColor":"#ffffff","cornerRadius":3,"gridAlign":"all"}
}
}
